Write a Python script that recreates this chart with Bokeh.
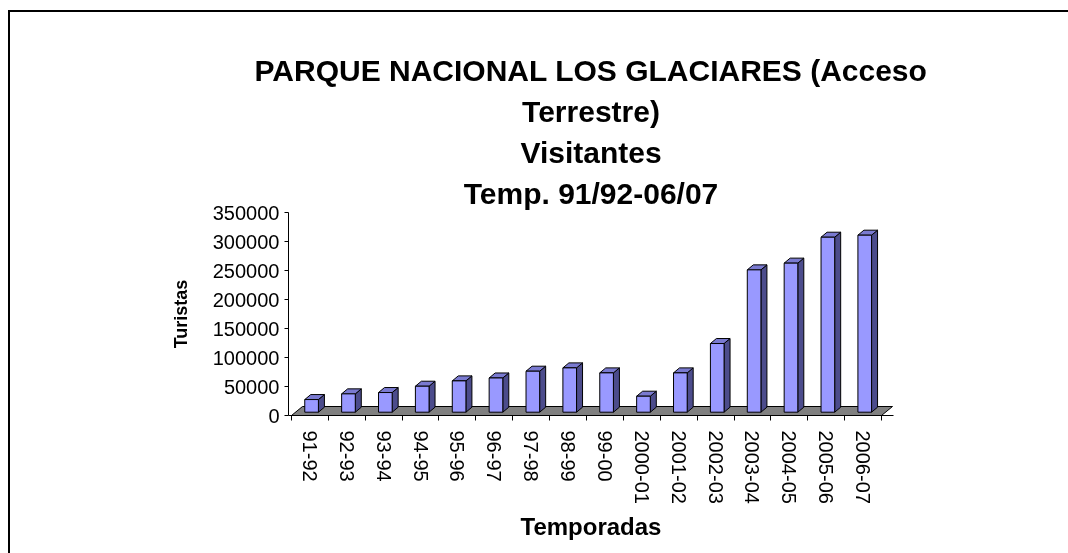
import math
from bokeh.plotting import figure
from bokeh.models import Range1d, FixedTicker, Title, BasicTickFormatter
from bokeh.embed import file_html
from bokeh.resources import INLINE

# ---- data ----
seasons = ["91-92", "92-93", "93-94", "94-95", "95-96", "96-97", "97-98", "98-99",
           "99-00", "2000-01", "2001-02", "2002-03", "2003-04", "2004-05", "2005-06", "2006-07"]
visitors = [21800, 31600, 33900, 44800, 54000, 59000, 70700, 76400,
            67800, 27600, 67800, 118400, 245400, 257000, 301700, 305200]
y_ticks = [0, 50000, 100000, 150000, 200000, 250000, 300000, 350000]
title_lines = ["PARQUE NACIONAL LOS GLACIARES (Acceso", "Terrestre)", "Visitantes", "Temp. 91/92-06/07"]
x_title = "Temporadas"
y_title = "Turistas"

# ---- style constants ----
FONT = "Liberation Sans"
PX_Y = 350000 / 203.0          # data units per pixel (vertical)
PX_X = 1 / 36.875              # data units per pixel (horizontal)
FRONT_L, FRONT_R = 0.36, 0.73  # bar front face inside each category
BAR_DX, BAR_DY = 6 * PX_X, 5 * PX_Y
BASE = 3.3 * PX_Y
FLOOR_DX, FLOOR_DY = 11 * PX_X, 9 * PX_Y

n = len(seasons)
W, H = 1080, 550
p = figure(width=W, height=H, output_backend="svg", toolbar_location=None,
           x_range=Range1d(-0.081, 16.325), y_range=Range1d(0, 350000),
           min_border_left=278, min_border_right=W - 883, min_border_top=200, min_border_bottom=H - 403,
           background_fill_color="white", border_fill_color="white")
p.styles = {"position": "fixed", "left": "10px", "top": "12px",
            "box-shadow": "-2px -2px 0px 0px #000000"}
p.outline_line_color = None
p.grid.visible = False

# floor
p.patch([0, n, n + FLOOR_DX, FLOOR_DX], [0, 0, FLOOR_DY, FLOOR_DY],
        fill_color="#808080", line_color="#000000", line_width=1)

# bars (3D look)
xl = [i + FRONT_L for i in range(n)]
xr = [i + FRONT_R for i in range(n)]
tops = [BASE + v for v in visitors]
side_xs = [[r, r + BAR_DX, r + BAR_DX, r] for r in xr]
side_ys = [[BASE, BASE + BAR_DY, t + BAR_DY, t] for t in tops]
top_xs = [[l, r, r + BAR_DX, l + BAR_DX] for l, r in zip(xl, xr)]
top_ys = [[t, t, t + BAR_DY, t + BAR_DY] for t in tops]
p.patches(side_xs, side_ys, fill_color="#4C4C8C", line_color="#000000", line_width=1)
p.patches(top_xs, top_ys, fill_color="#7A7AD0", line_color="#000000", line_width=1)
p.quad(left=xl, right=xr, bottom=[BASE] * n, top=tops,
       fill_color="#9999FF", line_color="#000000", line_width=1)

# x axis
xa = p.xaxis[0]
xa.ticker = FixedTicker(ticks=[i + 0.5 for i in range(n)], minor_ticks=list(range(n + 1)))
xa.major_label_overrides = {i + 0.5: s for i, s in enumerate(seasons)}
xa.major_label_orientation = -math.pi / 2
xa.major_tick_out = 0
xa.major_tick_in = 0
xa.minor_tick_out = 5
xa.minor_tick_in = 0
xa.minor_tick_line_color = "#000000"
xa.axis_line_color = "#000000"
xa.major_label_standoff = 10
xa.major_label_text_font = FONT
xa.major_label_text_font_size = "20px"
xa.major_label_text_color = "#000000"
xa.axis_label = x_title
xa.axis_label_text_font = FONT
xa.axis_label_text_font_size = "24px"
xa.axis_label_text_font_style = "bold"
xa.axis_label_text_color = "#000000"
xa.axis_label_standoff = 6

# y axis
ya = p.yaxis[0]
ya.ticker = FixedTicker(ticks=y_ticks, minor_ticks=[])
ya.formatter = BasicTickFormatter(use_scientific=False)
ya.major_tick_out = 4
ya.major_tick_in = 0
ya.major_tick_line_color = "#000000"
ya.axis_line_color = "#000000"
ya.major_label_standoff = 5
ya.major_label_text_font = FONT
ya.major_label_text_font_size = "20px"
ya.major_label_text_color = "#000000"
ya.axis_label = y_title
ya.axis_label_text_font = FONT
ya.axis_label_text_font_size = "18px"
ya.axis_label_text_font_style = "bold"
ya.axis_label_text_color = "#000000"
ya.axis_label_standoff = 19

# title lines: stacked above the frame, nearest line added first
for line in reversed(title_lines):
    p.add_layout(Title(text=line, align="center", text_font=FONT, text_font_size="30px",
                       text_font_style="bold", text_color="#000000", standoff=6), "above")

open("out.html", "w").write(file_html(p, INLINE))
